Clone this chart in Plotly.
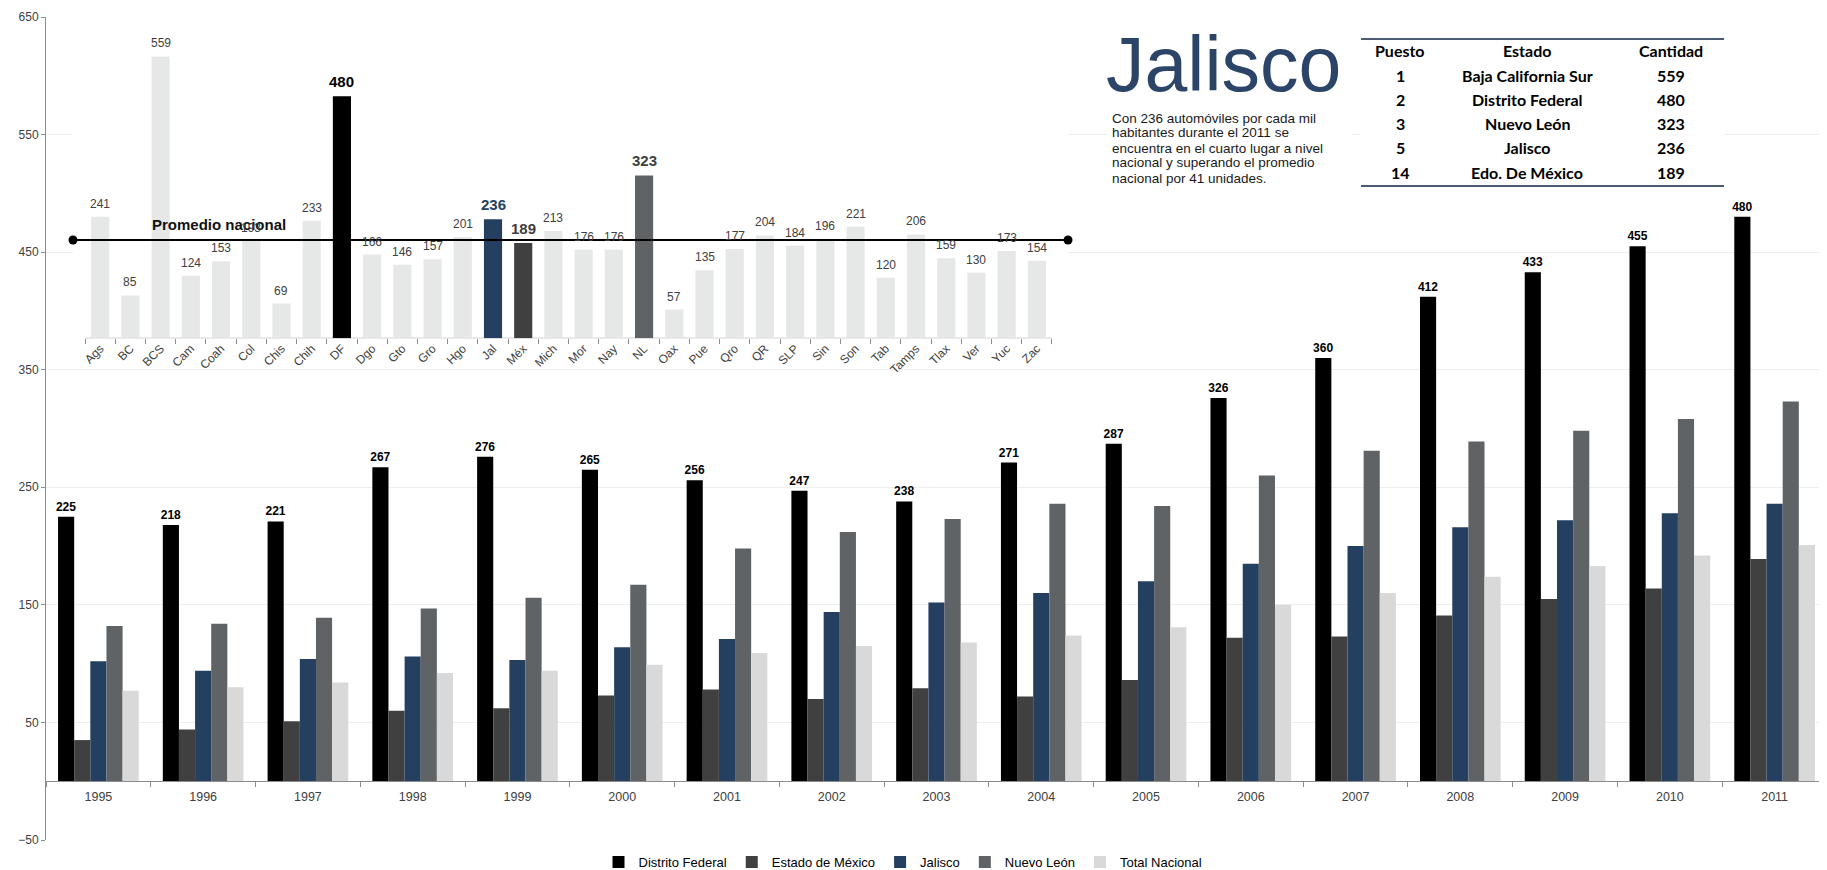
import plotly.graph_objects as go

# ---------------- data ----------------
years = ['1995', '1996', '1997', '1998', '1999', '2000', '2001', '2002', '2003',
         '2004', '2005', '2006', '2007', '2008', '2009', '2010', '2011']
distrito_federal = [225, 218, 221, 267, 276, 265, 256, 247, 238, 271, 287, 326, 360, 412, 433, 455, 480]
estado_mexico = [35, 44, 51, 60, 62, 73, 78, 70, 79, 72, 86, 122, 123, 141, 155, 164, 189]
jalisco = [102, 94, 104, 106, 103, 114, 121, 144, 152, 160, 170, 185, 200, 216, 222, 228, 236]
nuevo_leon = [132, 134, 139, 147, 156, 167, 198, 212, 223, 236, 234, 260, 281, 289, 298, 308, 323]
total_nacional = [77, 80, 84, 92, 94, 99, 109, 115, 118, 124, 131, 150, 160, 174, 183, 192, 201]

estados = ['Ags', 'BC', 'BCS', 'Cam', 'Coah', 'Col', 'Chis', 'Chih', 'DF', 'Dgo', 'Gto', 'Gro',
           'Hgo', 'Jal', 'Méx', 'Mich', 'Mor', 'Nay', 'NL', 'Oax', 'Pue', 'Qro', 'QR', 'SLP',
           'Sin', 'Son', 'Tab', 'Tamps', 'Tlax', 'Ver', 'Yuc', 'Zac']
autos_2011 = [241, 85, 559, 124, 153, 193, 69, 233, 480, 166, 146, 157, 201, 236, 189, 213,
              176, 176, 323, 57, 135, 177, 204, 184, 196, 221, 120, 206, 159, 130, 173, 154]
promedio_nacional = 195

tabla_encabezado = ['Puesto', 'Estado', 'Cantidad']
tabla_puesto = ['1', '2', '3', '5', '14']
tabla_estado = ['Baja California Sur', 'Distrito Federal', 'Nuevo León', 'Jalisco', 'Edo. De México']
tabla_cantidad = ['559', '480', '323', '236', '189']

titulo = 'Jalisco'
descripcion = ['Con 236 automóviles por cada mil',
               'habitantes durante el 2011 se',
               'encuentra en el cuarto lugar a nivel',
               'nacional y superando el promedio',
               'nacional por 41 unidades.']

# ---------------- styling ----------------
FONT = 'Liberation Sans, Arial, sans-serif'
TFONT = 'Lato, sans-serif'
col_df, col_mex, col_jal, col_nl, col_tot = '#000000', '#404040', '#243F60', '#5F6366', '#D9D9D9'
inset_base = '#E6E7E7'
destacados = {'DF': (col_df, '#000000'), 'Jal': (col_jal, col_jal),
              'Méx': (col_mex, '#404040'), 'NL': (col_nl, '#404040')}

# the page body has an 8px margin, so the figure is drawn 8px in from the window's corner
OFF = 8
W, H = 1827 - OFF, 870 - OFF
L, R, T, B = 46 - OFF, 0, 17 - OFF, 30
PLOT_W = W - L - R
PLOT_H = H - T - B
def px_x(x):          # window pixel -> paper fraction
    return (x - OFF - L) / PLOT_W
def px_y(y):
    return (H - B - (y - OFF)) / PLOT_H

y_range = [-50, 650]
inset_range = [0, 600]
n_est = len(estados)
inset_x_range = [-0.9, n_est + 0.03]   # the reference line runs a little past the first/last state

fig = go.Figure()

series = [('Distrito Federal', distrito_federal, col_df),
          ('Estado de México', estado_mexico, col_mex),
          ('Jalisco', jalisco, col_jal),
          ('Nuevo León', nuevo_leon, col_nl),
          ('Total Nacional', total_nacional, col_tot)]
for name, vals, color in series:
    kw = {}
    if name == 'Distrito Federal':
        kw = dict(text=[f'<b>{v}</b>' for v in vals], textposition='outside', constraintext='none',
                  textfont=dict(family=FONT, size=12, color='#000000'), cliponaxis=False)
    fig.add_trace(go.Bar(x=years, y=vals, name=name, marker=dict(color=color, line=dict(width=0)),
                         xaxis='x', yaxis='y', **kw))

# inset: automobiles per state 2011
idx = list(range(n_est))
inset_colors = [destacados[s][0] if s in destacados else inset_base for s in estados]
fig.add_trace(go.Bar(x=idx, y=autos_2011, xaxis='x2', yaxis='y2', width=0.6,
                     marker=dict(color=inset_colors, line=dict(width=0)),
                     showlegend=False, hoverinfo='skip'))

# promedio nacional reference line
fig.add_trace(go.Scatter(x=inset_x_range, y=[promedio_nacional, promedio_nacional], xaxis='x2', yaxis='y2',
                         mode='lines+markers', line=dict(color='#000000', width=2),
                         marker=dict(size=9, color='#000000'), cliponaxis=False, showlegend=False))

shapes = [
    dict(type='line', xref='x2', yref='y2', x0=-0.5, x1=n_est - 0.5, y0=0, y1=0,
         line=dict(color='#8C8C8C', width=1), layer='below'),
    dict(type='rect', xref='paper', yref='paper', x0=px_x(1108), x1=px_x(1352), y0=px_y(186), y1=px_y(106),
         fillcolor='white', line=dict(width=0), layer='above'),
    dict(type='rect', xref='paper', yref='paper', x0=px_x(1361), x1=px_x(1724), y0=px_y(186), y1=px_y(39),
         fillcolor='white', line=dict(width=0), layer='above'),
    dict(type='line', xref='paper', yref='paper', x0=px_x(1361), x1=px_x(1724), y0=px_y(39), y1=px_y(39),
         line=dict(color='#4A5B73', width=2), layer='above'),
    dict(type='line', xref='paper', yref='paper', x0=px_x(1361), x1=px_x(1724), y0=px_y(186), y1=px_y(186),
         line=dict(color='#4A5B73', width=2), layer='above'),
]

annotations = [
    dict(text='<b>Promedio nacional</b>', xref='x2', yref='y2', x=3.93, y=promedio_nacional,
         yanchor='bottom', yshift=5, showarrow=False, font=dict(family=FONT, size=15, color='#111111')),
    dict(text=titulo, xref='paper', yref='paper', x=px_x(1104), y=px_y(64), xanchor='left', yanchor='middle',
         showarrow=False, font=dict(family=FONT, size=77, color='#2B4468')),
]
# value labels of the inset bars
for i, (s, v) in enumerate(zip(estados, autos_2011)):
    hi = s in destacados
    annotations.append(dict(text=f'<b>{v}</b>' if hi else str(v), xref='x2', yref='y2', x=i, y=v,
                            xanchor='center', yanchor='bottom', yshift=4, showarrow=False,
                            font=dict(family=FONT, size=15 if hi else 12,
                                      color=destacados[s][1] if hi else '#404040')))
for i, line in enumerate(descripcion):
    annotations.append(dict(text=line, xref='paper', yref='paper', x=px_x(1110), y=px_y(118 + 15 * i),
                            xanchor='left', yanchor='middle', showarrow=False,
                            font=dict(family=FONT, size=13.5, color='#1A1A1A')))

# table as text cells
col_x = [1400, 1527, 1671]
columns = [tabla_puesto, tabla_estado, tabla_cantidad]
for c, (hdr, vals) in enumerate(zip(tabla_encabezado, columns)):
    cells = [hdr] + vals
    for r, v in enumerate(cells):
        annotations.append(dict(text=f'<b>{v}</b>', xref='paper', yref='paper', x=px_x(col_x[c]),
                                y=px_y(51 + 24.2 * r), xanchor='center', yanchor='middle', showarrow=False,
                                font=dict(family=TFONT, size=16, color='#000000')))

fig.update_layout(
    width=W, height=H, margin=dict(l=L, r=R, t=T, b=B, pad=0, autoexpand=False),
    paper_bgcolor='white', plot_bgcolor='white',
    barmode='group', bargap=0.23, bargroupgap=0,
    font=dict(family=FONT, size=12, color='#404040'),
    xaxis=dict(domain=[0, 1], type='category', anchor='free', automargin=False,
               position=(0 - y_range[0]) / (y_range[1] - y_range[0]),
               showline=True, linecolor='#8C8C8C', linewidth=1, tickson='boundaries',
               ticks='outside', ticklen=5, tickcolor='#8C8C8C', showgrid=False, ticklabelstandoff=4,
               tickfont=dict(family=FONT, size=12.5, color='#404040')),
    yaxis=dict(domain=[0, 1], range=y_range, tick0=-50, dtick=100, showgrid=True, gridcolor='#EEEEEE',
               showline=True, linecolor='#8C8C8C', ticks='outside', ticklen=4, tickcolor='#8C8C8C',
               zeroline=False, automargin=False, tickfont=dict(family=FONT, size=12, color='#404040')),
    xaxis2=dict(domain=[px_x(73), px_x(1068)], anchor='y2', range=inset_x_range, automargin=False,
                tickmode='array', tickvals=idx, ticktext=estados, ticks='', showline=False,
                showgrid=False, zeroline=False, tickangle=-45,
                minor=dict(tick0=0.5, dtick=1, ticks='outside', ticklen=5, tickcolor='#8C8C8C', showgrid=False),
                tickfont=dict(family=FONT, size=12, color='#404040')),
    yaxis2=dict(domain=[px_y(338.3), px_y(338.3 - 600 * 0.5042)], anchor='x2', range=inset_range,
                visible=False, automargin=False),
    legend=dict(orientation='h', x=px_x(903), xanchor='center', yref='container',
                y=(870 - 862) / H, yanchor='middle', font=dict(family=FONT, size=13, color='#000000'),
                itemwidth=30, bgcolor='rgba(0,0,0,0)', traceorder='normal'),
    shapes=shapes, annotations=annotations,
)

fig.write_html('out.html')
